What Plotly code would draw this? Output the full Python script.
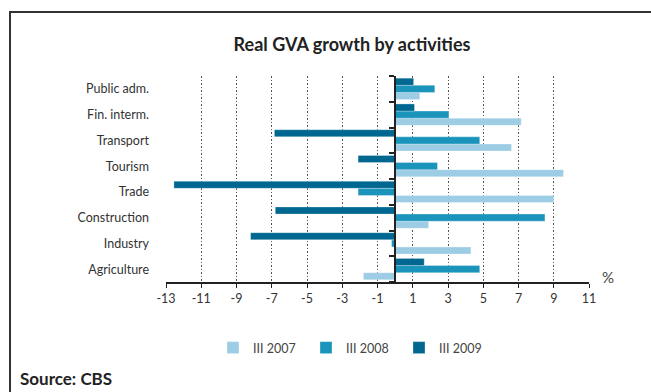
import plotly.graph_objects as go

# Activities listed bottom-up (first category sits at the bottom of the axis)
activities = ["Agriculture", "Industry", "Construction", "Trade",
              "Tourism", "Transport", "Fin. interm.", "Public adm."]

# Real GVA growth, % y/y
q3_2007 = [-1.8, 4.3, 1.9, 9.0, 9.55, 6.6, 7.15, 1.4]
q3_2008 = [4.8, -0.2, 8.5, -2.1, 2.4, 4.8, 3.05, 2.25]
q3_2009 = [1.65, -8.2, -6.8, -12.55, -2.1, -6.85, 1.1, 1.05]

series_names = ["III 2007", "III 2008", "III 2009"]
series_values = [q3_2007, q3_2008, q3_2009]
series_colors = ["#9dcde4", "#1a94bb", "#006790"]

x_ticks = list(range(-13, 12, 2))
x_tick_text = [str(v) for v in x_ticks]
positions = list(range(len(activities)))

fig = go.Figure()
for name, vals, col in zip(series_names, series_values, series_colors):
    fig.add_trace(go.Bar(
        x=vals, y=positions, orientation="h", name=name,
        marker=dict(color=col, line=dict(color="rgba(255,255,255,0.6)", width=0.5)),
    ))

# helper trace so the secondary (zero-line) axis is rendered
fig.add_trace(go.Scatter(x=[None], y=[None], yaxis="y2", showlegend=False,
                         hoverinfo="skip"))

FAMILY = "Lato, 'Open Sans', sans-serif"
label_font = dict(family=FAMILY, size=12.5, color="#333333")

W, H = 651, 392
L, R, T, B = 166, 62, 76, 110
pw, ph = W - L - R, H - T - B

def px_x(p):
    return (p - L) / pw

def px_y(p):
    return (H - B - p) / ph

fig.update_layout(
    width=W, height=H,
    margin=dict(l=L, r=R, t=T, b=B),
    paper_bgcolor="white", plot_bgcolor="white",
    barmode="group", bargap=0.17, bargroupgap=0.0,
    font=label_font,
    title=dict(text="<b>Real GVA growth by activities</b>",
               font=dict(family=FAMILY, size=18, color="#222222"),
               xref="container", x=352 / W, xanchor="center",
               yref="container", y=1 - 45 / H, yanchor="middle"),
    xaxis=dict(range=[-13, 11], tickvals=x_ticks, ticktext=x_tick_text,
               ticks="outside", ticklen=4,
               tickcolor="#222222", showline=True, linecolor="#222222", linewidth=2,
               showgrid=True, gridcolor="#555555", gridwidth=1.2,
               griddash="1.5px,2px",
               zeroline=False, tickfont=label_font, fixedrange=True),
    yaxis=dict(range=[-0.5, 7.5], tickvals=positions, ticktext=activities,
               ticks="", showgrid=False, zeroline=False, showline=False,
               ticklabelstandoff=16, tickfont=label_font),
    yaxis2=dict(range=[-0.5, 7.5], overlaying="y", anchor="free",
                position=13 / 24, side="left",
                tickvals=[i - 0.5 for i in range(len(activities) + 1)],
                ticks="outside", ticklen=5, tickwidth=1.5, tickcolor="#222222",
                showticklabels=False, showline=True, linecolor="#222222",
                linewidth=2, showgrid=False, zeroline=False),
    legend=dict(orientation="h", x=px_x(213), xanchor="left",
                y=px_y(348), yanchor="middle",
                font=dict(family=FAMILY, size=12.5, color="#444444"),
                entrywidth=48, entrywidthmode="pixels", itemwidth=30,
                traceorder="normal"),
    showlegend=True,
    shapes=[dict(type="rect", xref="paper", yref="paper",
                 x0=px_x(10), x1=px_x(670), y0=px_y(410), y1=px_y(12),
                 line=dict(color="#333333", width=2), fillcolor="rgba(0,0,0,0)",
                 layer="below")],
    annotations=[
        dict(text="%", xref="paper", yref="paper", x=px_x(608), y=px_y(277),
             xanchor="center", yanchor="middle", showarrow=False,
             font=dict(family=FAMILY, size=15, color="#444444")),
        dict(text="<b>Source: CBS</b>", xref="paper", yref="paper",
             x=px_x(18), y=px_y(378), xanchor="left", yanchor="middle",
             showarrow=False,
             font=dict(family=FAMILY, size=17, color="#222222")),
    ],
)

fig.write_html("out.html")
